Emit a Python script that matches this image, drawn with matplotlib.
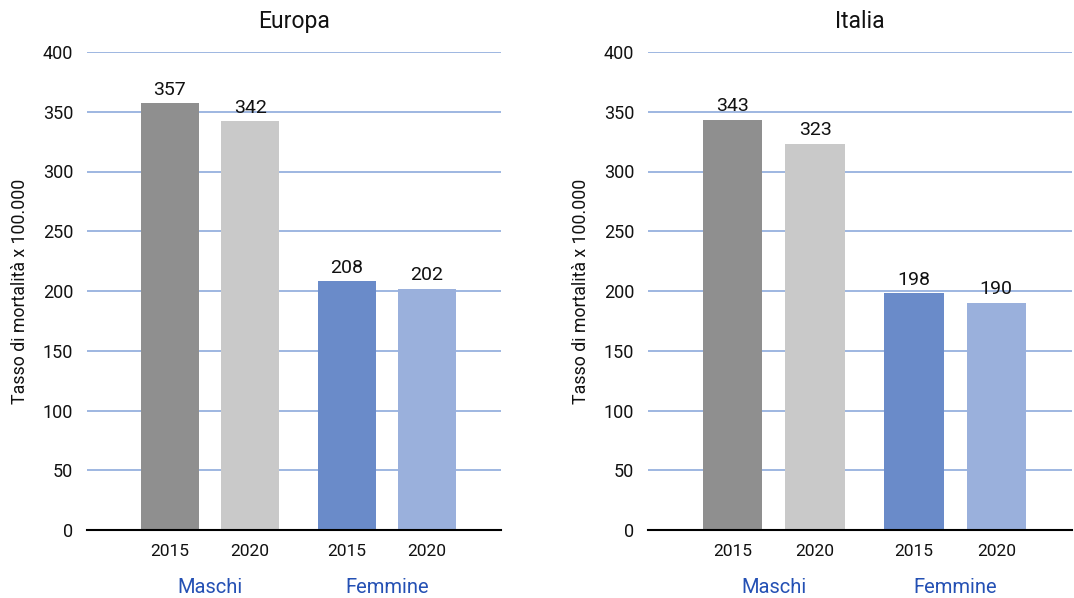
import matplotlib
matplotlib.use("Agg")
import matplotlib.pyplot as plt
from matplotlib.transforms import blended_transform_factory

plt.rcParams['font.family'] = ['Roboto', 'DejaVu Sans']

panels = ["Europa", "Italia"]
years = ["2015", "2020", "2015", "2020"]
groups = ["Maschi", "Femmine"]
europa_values = [357, 342, 208, 202]
italia_values = [343, 323, 198, 190]
values = {"Europa": europa_values, "Italia": italia_values}

x_pos = [0, 1, 2.2, 3.2]
group_centers = [0.5, 2.7]
bar_colors = ["#8f8f8f", "#c9c9c9", "#6a8bc9", "#9ab0dc"]
grid_color = "#8eaadb"
group_color = "#2450b4"

fig = plt.figure(figsize=(10.74, 5.98), dpi=100)
H = 598
W = 1074
rects = [(87, 501), (648, 1072)]
for name, (x0, x1) in zip(panels, rects):
    ax = fig.add_axes([x0 / W, 1 - 530 / H, (x1 - x0) / W, (530 - 52) / H])
    vals = values[name]
    ax.bar(x_pos, vals, width=0.72, color=bar_colors, zorder=3)
    for x, v in zip(x_pos, vals):
        ax.text(x, v + 4, str(v), ha='center', va='bottom', fontsize=14, color='#111111', zorder=4)
    ax.set_ylim(0, 400)
    ax.set_xlim(-1.03, 4.12)
    ax.set_yticks(range(0, 401, 50))
    ax.set_xticks(x_pos)
    ax.set_xticklabels(years)
    ax.tick_params(axis='y', length=0, pad=10, labelsize=13, colors='#111111')
    ax.tick_params(axis='x', length=0, pad=10, labelsize=12.5, colors='#111111')
    ax.yaxis.grid(True, color=grid_color, linewidth=1.2, zorder=0)
    ax.set_axisbelow(True)
    for s in ['top', 'right', 'left']:
        ax.spines[s].set_visible(False)
    ax.spines['bottom'].set_color('black')
    ax.spines['bottom'].set_linewidth(1.5)
    ax.spines['bottom'].set_zorder(5)
    ax.set_title(name, fontsize=16.5, pad=17, color='#111111')
    ax.set_ylabel("Tasso di mortalità x 100.000", fontsize=12.8, labelpad=10, color='#111111')
    trans = blended_transform_factory(ax.transData, ax.transAxes)
    for gx, g in zip(group_centers, groups):
        ax.text(gx, -0.12, g, transform=trans, ha='center', va='center', fontsize=14.5, color=group_color)

fig.savefig("out.png", dpi=100)
